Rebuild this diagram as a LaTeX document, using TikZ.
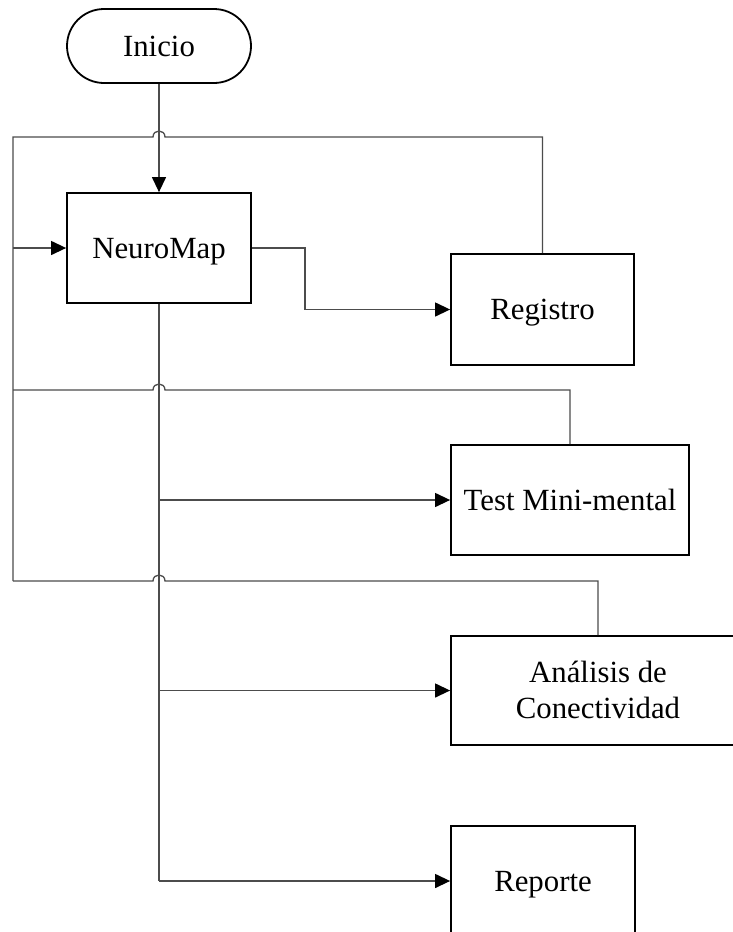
\documentclass[tikz,border=0pt]{standalone}
\usepackage{fontspec}
\setmainfont{Liberation Serif}
\usetikzlibrary{arrows.meta}
\begin{document}
\begin{tikzpicture}[x=1pt,y=-1pt,
  box/.style={draw=black,line width=1.8pt,fill=white,inner sep=0pt,align=center,
    text height=20.4pt,text depth=0pt,
    font=\fontsize{30.8}{36}\selectfont},
  conn/.style={draw=black!70,line width=1.3pt},
  arr/.style={conn,-{Triangle[length=15pt,width=14pt,color=black,fill=black]}}]
\useasboundingbox (0,0) rectangle (732,932);
\fill[white] (0,0) rectangle (732,932);
% nodes
\node[box,rounded corners=37pt,minimum width=184pt,minimum height=74pt] (ini) at (159,46) {Inicio};
\node[box,minimum width=184pt,minimum height=110pt] (neuro) at (159,248) {NeuroMap};
\node[box,minimum width=183pt,minimum height=111pt] (reg) at (542.5,309.5) {Registro};
\node[box,minimum width=238pt,minimum height=110pt] (test) at (570,500) {Test Mini-mental};
\node[box,text height=56.4pt,minimum width=294pt,minimum height=109pt] (ana) at (598,690.5) {Análisis de\\Conectividad};
\node[box,minimum width=184pt,minimum height=110pt] (rep) at (543,881) {Reporte};
% coordinates
\coordinate (L1) at (13,137);
\coordinate (L2) at (13,390);
\coordinate (L3) at (13,581);
\coordinate (Lin) at (13,248);
\coordinate (b1) at (305,248);
\coordinate (b2) at (305,309.5);
\coordinate (t1) at (159,500);
\coordinate (t2) at (159,690.5);
\coordinate (t3) at (159,881);
% main flow
\draw[arr] (ini.south) -- (neuro.north);
\draw[arr] (neuro.east |- b1) -- (b1) -- (b2) -- (reg.west |- b2);
\draw[conn] (neuro.south) -- (t3);
\draw[arr] (t1) -- (test.west |- t1);
\draw[arr] (t2) -- (ana.west |- t2);
\draw[arr] (t3) -- (rep.west |- t3);
% feedback loops with line hops over the vertical line x=159
\draw[conn] (reg.north) -- (reg.north |- L1) -- (165,137) .. controls (165,129) and (153,129) .. (153,137) -- (L1) -- (L3);
\draw[conn] (test.north) -- (test.north |- L2) -- (165,390) .. controls (165,382) and (153,382) .. (153,390) -- (L2);
\draw[conn] (ana.north) -- (ana.north |- L3) -- (165,581) .. controls (165,573) and (153,573) .. (153,581) -- (L3);
\draw[arr] (Lin) -- (neuro.west |- Lin);
\end{tikzpicture}
\end{document}
